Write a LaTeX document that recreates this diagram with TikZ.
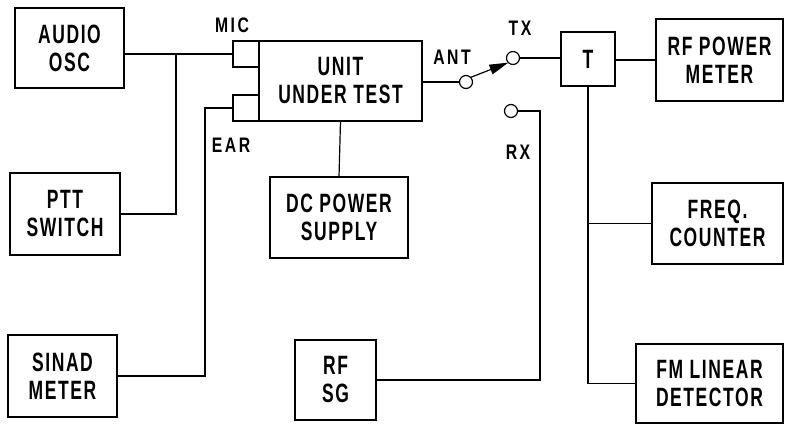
\documentclass[tikz,border=0pt]{standalone}
\usepackage{fontspec}
\setmainfont[FakeStretch=0.66,LetterSpace=6]{Liberation Sans}
\newfontfamily\lblfont[FakeStretch=0.75,LetterSpace=12]{Liberation Sans}
\usetikzlibrary{arrows.meta,calc}
\begin{document}
\begin{tikzpicture}[x=1pt,y=-1pt,
  line width=1.2pt,
  every node/.style={inner sep=0pt,outer sep=0pt},
  blk/.style={draw,align=center,font=\fontsize{26.5}{28}\selectfont\bfseries},
  port/.style={draw,minimum width=26pt,minimum height=26pt},
  term/.style={draw,circle,minimum size=13pt,fill=white},
  lbl/.style={font=\lblfont\fontsize{21}{24}\selectfont\bfseries}]
\useasboundingbox (0,0) rectangle (787,426);
% blocks
\node[blk,minimum width=109pt,minimum height=80pt] (aosc) at (69.5,48) {AUDIO\\OSC};
\node[blk,minimum width=110pt,minimum height=82pt] (ptt) at (65,214) {PTT\\SWITCH};
\node[blk,minimum width=109pt,minimum height=82pt] (sinad) at (62.5,376) {SINAD\\METER};
\node[blk,minimum width=163pt,minimum height=80pt] (uut) at (340.5,81) {UNIT\\UNDER TEST};
\node[port,anchor=north east] (mic) at (uut.north west) {};
\node[port,anchor=south east] (ear) at (uut.south west) {};
\node[blk,minimum width=138pt,minimum height=81pt] (dc) at (339,217.5) {DC POWER\\SUPPLY};
\node[blk,minimum width=81pt,minimum height=80pt] (rfsg) at (335.5,380) {RF\\SG};
\node[blk,minimum width=54pt,minimum height=54pt] (tee) at (588,59) {T};
\node[blk,minimum width=127pt,minimum height=82pt] (rfpm) at (719.5,60) {RF POWER\\METER};
\node[blk,minimum width=131pt,minimum height=81pt] (freq) at (717.5,223.5) {FREQ.\\COUNTER};
\node[blk,minimum width=147pt,minimum height=79pt] (fm) at (709.5,383.5) {FM LINEAR\\DETECTOR};
% switch terminals
\node[term] (ant) at (466,82) {};
\node[term] (tx) at (513,58) {};
\node[term] (rx) at (511,111) {};
% labels
\node[lbl] (miclbl) at (232,25) {MIC};
\node[lbl] (earlbl) at (231,145) {EAR};
\node[lbl] (antlbl) at (452,57) {ANT};
\node[lbl] (txlbl) at (520,28) {TX};
\node[lbl] (rxlbl) at (518,152) {RX};
% junctions
\coordinate (j1) at (176,54);
\coordinate (jt) at (tee.south |- fm.west);
% connectors
\draw (aosc.east |- mic.west) -- (mic.west);
\draw (ptt.east) -| (j1);
\draw (ear.west) -- ++(-28,0) |- (sinad.east);
\draw (uut.south) -- (dc.north);
\draw (uut.east |- ant.west) -- (ant.west);
\draw[-{Triangle[length=19pt,width=10pt]}] (ant.north east) -- (tx.south west);
\draw (tx.east) -- (tee.west |- tx.east);
\draw (tee.east |- rfpm.west) -- (rfpm.west);
\draw (tee.south) -- (jt) -- (fm.west);
\draw (tee.south |- freq.west) -- (freq.west);
\draw (rfsg.east) -- ++(164,0) |- (rx.east);
\end{tikzpicture}
\end{document}
